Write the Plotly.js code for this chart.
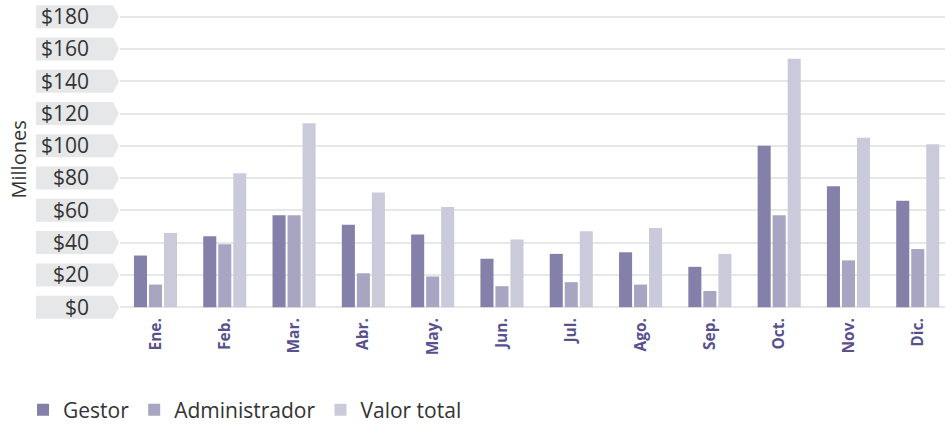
<!DOCTYPE html>
<html>
<head>
<meta charset="utf-8">
<script src="https://cdn.plot.ly/plotly-3.0.1.min.js"></script>
<style>html,body{margin:0;padding:0;background:#fff;}#chart{width:945px;height:424px;}</style>
</head>
<body>
<div id="chart"></div>
<script>
const months = ["Ene.", "Feb.", "Mar.", "Abr.", "May.", "Jun.", "Jul.", "Ago.", "Sep.", "Oct.", "Nov.", "Dic."];
const gestor = [32, 44, 57, 51, 45, 30, 33, 34, 25, 100, 75, 66];
const administrador = [14, 39, 57, 21, 19, 13, 15.5, 14, 10, 57, 29, 36];
const valorTotal = [46, 83, 114, 71, 62, 42, 47, 49, 33, 154, 105, 101];
const yTickVals = [0, 20, 40, 60, 80, 100, 120, 140, 160, 180];
const yTickText = ["$0", "$20", "$40", "$60", "$80", "$100", "$120", "$140", "$160", "$180"];
const seriesNames = ["Gestor", "Administrador", "Valor total"];
const seriesColors = ["#8580aa", "#a8a5c3", "#cbcadb"];

const W = 945, H = 424;
const margin = {l: 120, r: 0, t: 7, b: 112};
const plotW = W - margin.l - margin.r;
const plotH = H - margin.t - margin.b;
const yRange = [-3, 186];

const seriesData = [gestor, administrador, valorTotal];
const traces = seriesData.map((vals, i) => ({
  type: 'bar',
  name: seriesNames[i],
  x: months,
  y: vals,
  marker: {color: seriesColors[i]},
  hoverinfo: 'skip'
}));

// arrow-shaped tick label backgrounds
const shapes = yTickVals.map(v => {
  const yc = (v - yRange[0]) / (yRange[1] - yRange[0]);
  const hh = 11.5 / plotH;
  const xl = (36 - margin.l) / plotW;
  const xf = (113 - margin.l) / plotW;
  const xt = (119 - margin.l) / plotW;
  return {
    type: 'path', xref: 'paper', yref: 'paper', layer: 'below',
    path: `M ${xl},${yc - hh} L ${xf},${yc - hh} L ${xt},${yc} L ${xf},${yc + hh} L ${xl},${yc + hh} Z`,
    fillcolor: '#e6e7e8', line: {width: 0}
  };
});

const layout = {
  width: W, height: H,
  margin: Object.assign({autoexpand: false}, margin),
  paper_bgcolor: '#ffffff',
  plot_bgcolor: '#ffffff',
  font: {family: 'Open Sans, Noto Sans, sans-serif', color: '#333333', size: 21},
  barmode: 'group',
  bargap: 0.35,
  bargroupgap: 0.13,
  showlegend: true,
  legend: {
    orientation: 'h', xref: 'container', x: 23 / W, xanchor: 'left',
    yref: 'container', y: (H - 410) / H, yanchor: 'middle',
    font: {size: 21, color: '#333333'}, traceorder: 'normal'
  },
  xaxis: {
    type: 'category',
    range: [-0.512, 11.393],
    tickangle: -90,
    ticks: '',
    showgrid: false, zeroline: false, showline: false,
    tickfont: {family: 'Open Sans, sans-serif', size: 15.5, color: '#57518e', weight: 'bold'},
    ticklabelstandoff: 2
  },
  yaxis: {
    range: yRange,
    tickvals: yTickVals,
    ticktext: yTickText,
    ticks: '',
    showgrid: true, gridcolor: '#e6e7e8', gridwidth: 2,
    zeroline: false, showline: false,
    ticklabelstandoff: 30,
    tickfont: {size: 21, color: '#333333'}
  },
  shapes: shapes,
  annotations: [{
    text: 'Millones', xref: 'paper', yref: 'paper',
    x: (18 - margin.l) / plotW, y: 0.5, textangle: -90,
    showarrow: false, xanchor: 'center', yanchor: 'middle',
    font: {size: 20, color: '#333333'}
  }]
};

Plotly.newPlot('chart', traces, layout, {displayModeBar: false, staticPlot: true});
</script>
</body>
</html>
